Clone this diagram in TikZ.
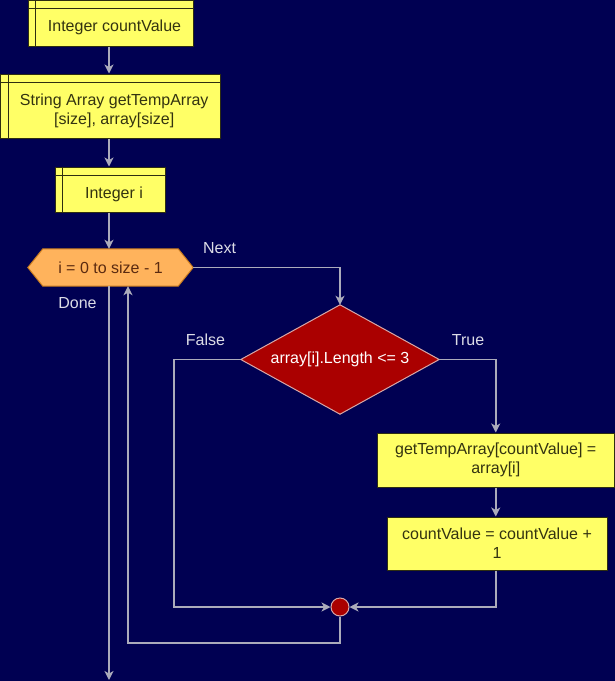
\documentclass[tikz,border=0pt]{standalone}
\usepackage{fontspec}
\setmainfont{Liberation Sans}
\usetikzlibrary{arrows.meta,calc}
\definecolor{bg}{HTML}{000052}
\definecolor{ylw}{HTML}{FFFF66}
\definecolor{ylwline}{HTML}{2E2E10}
\definecolor{boxtext}{HTML}{333310}
\definecolor{orng}{HTML}{FFB35C}
\definecolor{orngline}{HTML}{C77A1E}
\definecolor{hextext}{HTML}{5A2A10}
\definecolor{dred}{HTML}{AA0000}
\definecolor{redline}{HTML}{D8A8A8}
\definecolor{wire}{HTML}{ABABBB}
\definecolor{lbl}{HTML}{DCDCE6}
\tikzset{
  txt/.style={font=\fontsize{16}{19}\selectfont, align=center, inner sep=0pt},
  store/.style={draw=ylwline, fill=ylw, line width=1pt, inner sep=0pt},
  procbox/.style={draw=ylwline, fill=ylw, line width=1pt, inner sep=0pt, txt, text=boxtext},
  boxtxt/.style={txt, text=boxtext},
  ghost/.style={inner sep=0pt, draw=none, fill=none},
  wirelabel/.style={txt, text=lbl},
  arr/.style={draw=wire, line width=1.5pt, -{Stealth[length=9pt,width=9pt,inset=2.5pt]}},
  plain/.style={draw=wire, line width=1.5pt},
  junction/.style={circle, fill=dred, draw=redline, line width=1pt, minimum size=18pt, inner sep=0pt},
}
\begin{document}
\begin{tikzpicture}[x=1pt,y=-1pt]
\fill[bg] (0,0) rectangle (615,681);
\useasboundingbox (0,0) rectangle (615,681);

% internal-storage boxes
\node[store, minimum width=165pt, minimum height=45.5pt] (b1) at (110.5,23.25) {};
\draw[ylwline, line width=1pt] ($(b1.north west)+(8,0)$) -- ($(b1.south west)+(8,0)$)
  ($(b1.north west)+(0,8.5)$) -- ($(b1.north east)+(0,8.5)$);
\node[boxtxt] (t1) at ($(b1.center)+(4,4.5)$) {Integer countValue};

\node[store, minimum width=219.5pt, minimum height=64pt] (b2) at (110.25,106) {};
\draw[ylwline, line width=1pt] ($(b2.north west)+(8,0)$) -- ($(b2.south west)+(8,0)$)
  ($(b2.north west)+(0,9)$) -- ($(b2.north east)+(0,9)$);
\node[boxtxt] (t2) at ($(b2.center)+(4,4.5)$) {String Array getTempArray\\{}[size], array[size]};

\node[store, minimum width=110pt, minimum height=45pt] (b3) at (110,189.5) {};
\draw[ylwline, line width=1pt] ($(b3.north west)+(8,0)$) -- ($(b3.south west)+(8,0)$)
  ($(b3.north west)+(0,9)$) -- ($(b3.north east)+(0,9)$);
\node[boxtxt] (t3) at ($(b3.center)+(4,4.5)$) {Integer i};

% loop hexagon
\node[ghost, minimum width=165pt, minimum height=37pt] (hex) at (110.5,267.5) {};
\filldraw[fill=orng, draw=orngline, line width=1pt]
  (hex.west) -- ($(hex.north west)+(15,0)$) -- ($(hex.north east)+(-15,0)$) -- (hex.east)
  -- ($(hex.south east)+(-15,0)$) -- ($(hex.south west)+(15,0)$) -- cycle;
\node[txt, text=hextext] (thex) at (hex.center) {i = 0 to size - 1};

% decision diamond
\node[ghost, minimum width=198pt, minimum height=109pt] (dia) at (340,359.5) {};
\filldraw[fill=dred, draw=redline, line width=1pt]
  (dia.north) -- (dia.east) -- (dia.south) -- (dia.west) -- cycle;
\node[txt, text=white] (tdia) at (dia.center) {array[i].Length <= 3};

% process boxes
\node[procbox, minimum width=237.5pt, minimum height=54pt] (b4) at (495.75,460)
  {getTempArray[countValue] =\\array[i]};
\node[procbox, minimum width=220pt, minimum height=53pt] (b5) at (497,543.5)
  {countValue = countValue +\\1};

% junction
\node[junction] (circ) at (340,607) {};

% helper coordinates
\coordinate (doneend) at (109,680);
\coordinate (loopc) at (128,643);
\coordinate (falsec) at (174,607);

% connectors
\draw[arr] (b1.south -| 109,0) -- (b2.north -| 109,0);
\draw[arr] (b2.south -| 109,0) -- (b3.north -| 109,0);
\draw[arr] (b3.south -| 109,0) -- (hex.north -| 109,0);
\draw[arr] (hex.east) -- (hex.east -| dia.north) -- (dia.north);
\draw[arr] (hex.south -| doneend) -- (doneend);
\draw[arr] (dia.east) -- (dia.east -| b4.north) -- (b4.north);
\draw[arr] (dia.west) -- (dia.west -| falsec) -- (falsec) -- (circ.west);
\draw[arr] (b4.south) -- (b5.north -| b4.south);
\draw[arr] (b5.south -| b4.south) -- (circ -| b4.south) -- (circ.east);
\draw[arr] (circ.south) -- (circ |- loopc) -- (loopc) -- (loopc |- hex.south);

% labels
\node[wirelabel] (lnext) at (219.5,248) {Next};
\node[wirelabel] (ldone) at (77.5,303) {Done};
\node[wirelabel] (lfalse) at (205.5,340) {False};
\node[wirelabel] (ltrue) at (468,340) {True};
\end{tikzpicture}
\end{document}
